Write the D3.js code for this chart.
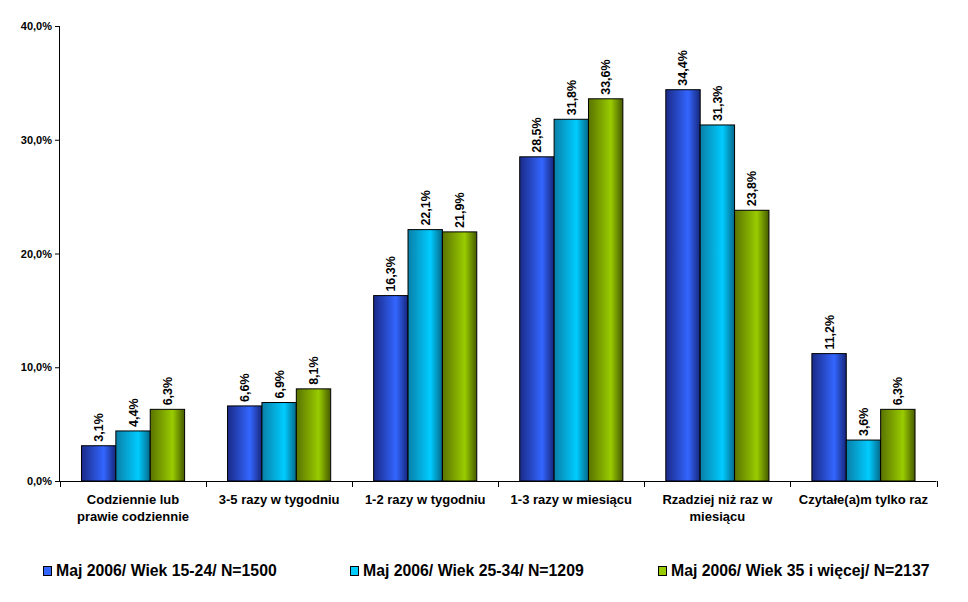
<!DOCTYPE html>
<html><head><meta charset="utf-8">
<script src="https://cdn.jsdelivr.net/npm/d3@7"></script>
<style>body{margin:0;background:#fff}svg{display:block}text{font-family:"Liberation Sans",Arial,sans-serif}</style>
</head><body><svg id="c" width="968" height="602"></svg>
<script>
const categories = [["Codziennie lub","prawie codziennie"],["3-5 razy w tygodniu"],["1-2 razy w tygodniu"],["1-3 razy w miesiącu"],["Rzadziej niż raz w","miesiącu"],["Czytałe(a)m tylko raz"]];
const seriesNames = ["Maj 2006/ Wiek 15-24/ N=1500","Maj 2006/ Wiek 25-34/ N=1209","Maj 2006/ Wiek 35 i więcej/ N=2137"];
const s1 = [3.1, 6.6, 16.3, 28.5, 34.4, 11.2];
const s2 = [4.4, 6.9, 22.1, 31.8, 31.3, 3.6];
const s3 = [6.3, 8.1, 21.9, 33.6, 23.8, 6.3];
const yTicks = [0, 10, 20, 30, 40];
const colors = [["#1a2a88","#3366ff","#17267a"],["#0a7fa8","#00ccff","#06688a"],["#5a7300","#99cc00","#465a00"]];

const series = [s1, s2, s3];
const svg = d3.select("#c");
const L = 60, R = 936.5, T = 26, B = 481;
const fmt = v => v.toFixed(1).replace(".", ",") + "%";

const x0 = d3.scaleBand().domain(d3.range(categories.length)).range([L, R]).padding(0);
const bw = x0.bandwidth();
const x1 = d3.scaleBand().domain(d3.range(3)).range([bw*0.147, bw*0.853]).padding(0);
const y = d3.scaleLinear().domain([0, 40]).range([B, T]);

const defs = svg.append("defs");
colors.forEach((c, i) => {
  const g = defs.append("linearGradient").attr("id", "g" + i).attr("x1", "0").attr("x2", "1").attr("y1", "0").attr("y2", "0");
  g.append("stop").attr("offset", "0").attr("stop-color", c[0]);
  g.append("stop").attr("offset", "0.65").attr("stop-color", c[1]);
  g.append("stop").attr("offset", "1").attr("stop-color", c[2]);
});

// bars
series.forEach((s, si) => {
  const g = svg.append("g");
  g.selectAll("rect").data(s).join("rect")
    .attr("x", (d, i) => x0(i) + x1(si))
    .attr("y", d => y(d))
    .attr("width", x1.bandwidth())
    .attr("height", d => B - y(d))
    .attr("fill", `url(#g${si})`)
    .attr("stroke", "#000").attr("stroke-width", 1);
  g.selectAll("text").data(s).join("text")
    .attr("transform", (d, i) => `translate(${x0(i) + x1(si) + x1.bandwidth()/2 + 4.5},${y(d) - 4}) rotate(-90)`)
    .attr("font-size", 12.5).attr("font-weight", "bold").attr("fill", "#000")
    .text(d => fmt(d));
});

// y axis
const ya = svg.append("g").attr("transform", `translate(${L},0)`)
  .call(d3.axisLeft(y).tickValues(yTicks).tickSize(5).tickFormat(d => fmt(d)));
ya.select(".domain").attr("stroke", "#000").attr("d", `M-0.5,${T}V${B}`);
ya.selectAll("line").attr("stroke", "#000");
ya.selectAll("text").attr("font-size", 11).attr("font-weight", "bold").attr("fill", "#000").attr("x", -8).style("font-family", "Liberation Sans, Arial");

// x axis
svg.append("line").attr("x1", L).attr("x2", R).attr("y1", B + 0.5).attr("y2", B + 0.5).attr("stroke", "#000");
const bounds = d3.range(categories.length + 1).map(i => L + i * bw);
svg.selectAll(".xt").data(bounds).join("line").attr("class", "xt")
  .attr("x1", d => Math.round(d) + 0.5).attr("x2", d => Math.round(d) + 0.5)
  .attr("y1", B).attr("y2", B + 6).attr("stroke", "#000");
categories.forEach((lines, i) => {
  const t = svg.append("text").attr("text-anchor", "middle").attr("font-size", 13).attr("font-weight", "bold");
  lines.forEach((ln, k) => t.append("tspan").attr("x", x0(i) + bw/2).attr("y", 504 + k*17).text(ln));
});

// legend
const legX = [43, 350, 658];
seriesNames.forEach((n, i) => {
  svg.append("rect").attr("x", legX[i] + 0.5).attr("y", 566.5).attr("width", 8).attr("height", 9)
    .attr("fill", colors[i][1]).attr("stroke", "#000");
  svg.append("text").attr("x", legX[i] + 13).attr("y", 576).attr("font-size", 15.8).attr("font-weight", "bold").text(n);
});
</script></body></html>
